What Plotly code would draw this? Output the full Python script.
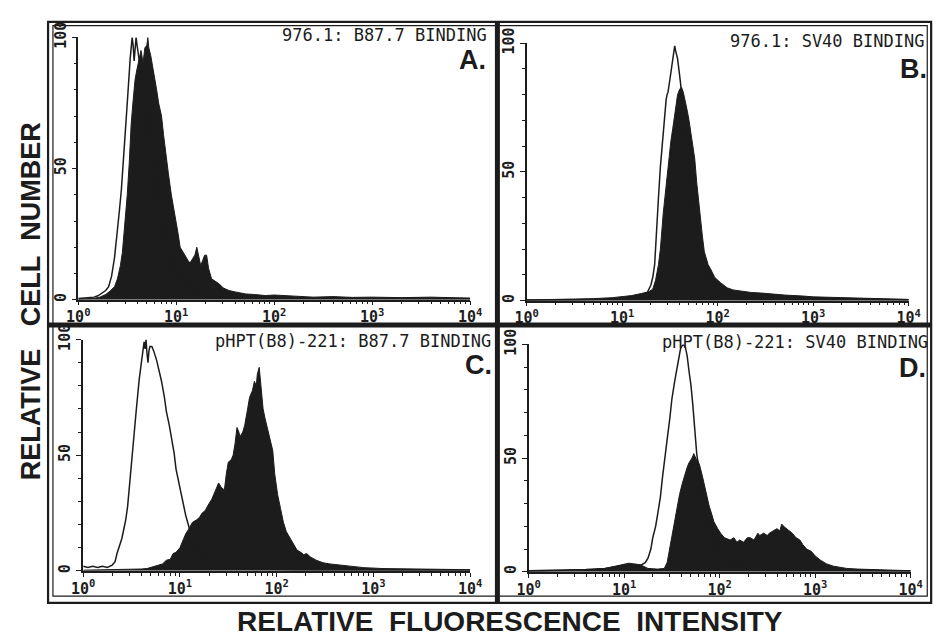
import plotly.graph_objects as go

W, H = 949, 637
INK = "#1c1c1c"
MONO = "DejaVu Sans Mono"
SANS = "Liberation Sans"

# Fluorescence positions are given in log10 decades (0..4), counts are relative (0..100)

# Panel A: 976.1, B87.7 binding
a_open_log = [0.00, 0.10, 0.16, 0.20, 0.24, 0.28, 0.31, 0.34, 0.37, 0.40, 0.42, 0.44, 0.46, 0.48,
              0.50, 0.52, 0.53, 0.55, 0.56, 0.57, 0.58, 0.59, 0.60, 0.62, 0.65, 0.70, 0.75, 0.80,
              0.85, 0.90, 0.95, 1.00, 1.10, 1.20, 1.40, 1.80, 2.50, 3.20, 4.00]
a_open_cnt = [0.5, 0.8, 1.0, 1.5, 2.5, 3.5, 5, 9, 16, 26, 34, 42, 55, 64,
              75, 88, 92, 100, 97, 91, 95, 100, 97, 91, 84, 72, 58, 44,
              32, 22, 15, 10, 5, 2.5, 1.2, 0.8, 0.6, 0.6, 0.5]
a_fill_log = [0.00, 0.15, 0.22, 0.28, 0.33, 0.37, 0.40, 0.43, 0.45, 0.47, 0.49, 0.50, 0.52, 0.54,
              0.56, 0.58, 0.60, 0.62, 0.64, 0.65, 0.66, 0.68, 0.70, 0.71, 0.72, 0.74, 0.76, 0.78,
              0.80, 0.82, 0.85, 0.87, 0.90, 0.92, 0.95, 0.98, 1.00, 1.02, 1.04, 1.07, 1.09, 1.12,
              1.14, 1.17, 1.19, 1.21, 1.23, 1.25, 1.27, 1.29, 1.31, 1.33, 1.36, 1.40, 1.44, 1.48,
              1.54, 1.60, 1.71, 1.80, 1.91, 2.00, 2.20, 2.40, 2.60, 2.80, 3.00, 3.30, 3.60, 3.80, 4.00]
a_fill_cnt = [0.3, 0.5, 1, 2, 3.5, 5, 8, 13, 18, 27, 35, 40, 52, 67,
              76, 84, 88, 92, 95, 93, 90, 96, 97, 100, 96, 93, 89, 84,
              80, 75, 70, 63, 53, 48, 40, 34, 30, 25, 20, 18, 17, 15,
              14, 16, 17, 20, 16, 13, 15, 17, 17, 12, 8, 7, 6, 4.5,
              3.5, 3, 2.2, 2, 1.6, 1.8, 1.3, 1.0, 1.2, 0.9, 1.0, 0.8, 1.0, 0.7, 0.6]

# Panel B: 976.1, SV40 binding
b_open_log = [0.0, 0.5, 1.0, 1.15, 1.22, 1.26, 1.30, 1.32, 1.34, 1.36, 1.38, 1.40, 1.43, 1.45,
              1.46, 1.47, 1.48, 1.50, 1.52, 1.54, 1.55, 1.56, 1.58, 1.60, 1.62, 1.65, 1.70, 1.75,
              1.80, 1.85, 1.90, 2.00, 2.20, 2.60, 3.00, 4.00]
b_open_cnt = [0.3, 0.4, 0.8, 1.2, 2, 3, 6, 9, 14, 25, 40, 52, 66, 74,
              78, 80, 81, 86, 91, 96, 99, 97, 94, 88, 82, 72, 55, 40,
              25, 15, 9, 4, 2, 1.2, 0.8, 0.4]
b_fill_log = [0.0, 0.4, 0.7, 0.9, 1.0, 1.1, 1.2, 1.28, 1.32, 1.35, 1.38, 1.40, 1.43, 1.46,
              1.48, 1.51, 1.53, 1.56, 1.58, 1.60, 1.62, 1.64, 1.66, 1.68, 1.70, 1.73, 1.76, 1.78,
              1.81, 1.84, 1.86, 1.90, 1.93, 1.97, 2.03, 2.10, 2.16, 2.25, 2.35, 2.45, 2.55, 2.70,
              2.90, 3.00, 3.20, 3.40, 3.60, 3.80, 4.00]
b_fill_cnt = [0.3, 0.5, 0.8, 1.2, 1.6, 2, 2.8, 3.5, 4.5, 8, 14, 20, 34, 45,
              52, 62, 67, 76, 80, 82, 83, 81, 78, 74, 70, 62, 55, 46,
              34, 25, 19, 14, 12, 9, 7, 5, 4.2, 3.6, 3.2, 3, 2.6, 2.2,
              1.8, 1.5, 1.3, 1.1, 1.0, 0.8, 0.5]

# Panel C: pHPT(B8)-221, B87.7 binding
c_open_log = [0.00, 0.05, 0.10, 0.15, 0.20, 0.25, 0.30, 0.33, 0.35, 0.38, 0.40, 0.42, 0.44, 0.46,
              0.47, 0.50, 0.52, 0.55, 0.58, 0.60, 0.62, 0.63, 0.64, 0.65, 0.66, 0.67, 0.68, 0.69,
              0.71, 0.73, 0.76, 0.79, 0.81, 0.84, 0.86, 0.89, 0.91, 0.94, 0.96, 0.99, 1.01, 1.04,
              1.06, 1.08, 1.10, 1.14, 1.20, 1.30, 1.45, 1.70, 2.20, 3.00, 4.00]
c_open_cnt = [2, 1.5, 2, 1.5, 2, 1.5, 2.5, 4, 7.5, 11, 14, 18, 22, 28,
              33, 46, 58, 70, 83, 90, 95, 99, 96, 100, 94, 90, 95, 97,
              97, 95, 91, 86, 82, 75, 69, 63, 58, 51, 44, 38, 33, 28,
              24, 21, 18, 12, 7, 3, 1.5, 0.8, 0.5, 0.5, 0.4]
c_fill_log = [0.0, 0.4, 0.6, 0.66, 0.75, 0.82, 0.86, 0.90, 0.93, 0.96, 1.00, 1.03, 1.06, 1.09,
              1.13, 1.17, 1.20, 1.23, 1.26, 1.30, 1.33, 1.37, 1.40, 1.43, 1.46, 1.48, 1.50, 1.53,
              1.55, 1.57, 1.59, 1.61, 1.62, 1.65, 1.67, 1.70, 1.72, 1.75, 1.77, 1.79, 1.80, 1.82,
              1.84, 1.86, 1.88, 1.91, 1.94, 1.96, 1.98, 2.01, 2.04, 2.07, 2.10, 2.14, 2.18, 2.21,
              2.25, 2.28, 2.31, 2.35, 2.41, 2.48, 2.55, 2.65, 2.75, 2.90, 3.10, 3.40, 3.70, 4.00]
c_fill_cnt = [0.3, 0.5, 0.8, 1, 2, 3, 4.6, 5, 7.5, 8, 10, 13, 16, 18,
              21, 22, 23, 25, 26, 29, 31, 35, 38, 36, 35, 42, 47, 48,
              50, 55, 62, 60, 58, 60, 63, 70, 75, 78, 82, 80, 85, 88,
              78, 70, 66, 61, 56, 52, 42, 33, 27, 21, 17, 14, 11, 9,
              8, 7, 7.5, 6, 4.6, 3.5, 3, 2.5, 2, 1.4, 1, 0.8, 0.6, 0.5]

# Panel D: pHPT(B8)-221, SV40 binding
d_open_log = [0.0, 0.3, 0.6, 0.8, 0.9, 0.95, 1.00, 1.10, 1.18, 1.22, 1.25, 1.28, 1.30, 1.33,
              1.35, 1.38, 1.40, 1.43, 1.45, 1.48, 1.50, 1.53, 1.55, 1.57, 1.59, 1.60, 1.62, 1.64,
              1.66, 1.68, 1.70, 1.72, 1.74, 1.76, 1.80, 1.85, 1.95, 2.05, 2.20, 2.40, 3.00, 4.00]
d_open_cnt = [0.5, 0.6, 1, 1.5, 2, 2.5, 3, 3.2, 3, 4, 6, 10, 15, 20,
              25, 33, 41, 50, 58, 68, 76, 84, 89, 94, 98, 99, 100, 99,
              95, 88, 82, 73, 62, 52, 40, 26, 12, 5, 2.5, 1.5, 0.8, 0.4]
d_fill_log = [0.0, 0.3, 0.6, 0.8, 0.9, 0.95, 1.00, 1.05, 1.10, 1.15, 1.20, 1.25, 1.35, 1.42,
              1.45, 1.48, 1.51, 1.53, 1.56, 1.58, 1.61, 1.63, 1.66, 1.68, 1.71, 1.73, 1.75, 1.77,
              1.79, 1.82, 1.84, 1.87, 1.89, 1.92, 1.94, 1.98, 2.01, 2.05, 2.11, 2.15, 2.18, 2.21,
              2.25, 2.29, 2.32, 2.36, 2.40, 2.42, 2.46, 2.50, 2.52, 2.56, 2.60, 2.63, 2.65, 2.67,
              2.70, 2.74, 2.76, 2.80, 2.84, 2.87, 2.91, 2.96, 3.00, 3.06, 3.12, 3.19, 3.26, 3.33,
              3.45, 3.60, 3.80, 4.00]
d_fill_cnt = [0.3, 0.5, 0.8, 1.5, 2.5, 3, 3.5, 3.8, 3.5, 3.2, 2.5, 1.5, 1.2, 1.5,
              4, 11, 17, 22, 29, 34, 39, 42, 46, 48, 50, 52, 50, 49,
              47, 42, 38, 32, 29, 25, 22, 19, 17, 15, 14, 15, 13, 14,
              13, 15, 15, 14, 17, 16, 17, 16, 17, 18, 19, 18, 21, 20,
              19, 18, 17, 15, 14, 12, 10, 9, 7, 5, 3.5, 2.5, 2, 1.5,
              1.2, 1, 0.7, 0.5]

panel_titles = ["976.1: B87.7 BINDING", "976.1: SV40 BINDING",
                "pHPT(B8)-221: B87.7 BINDING", "pHPT(B8)-221: SV40 BINDING"]
panel_letters = ["A.", "B.", "C.", "D."]
decade_vals = [1, 10, 100, 1000, 10000]
decade_text = ["10<sup>0</sup>", "10<sup>1</sup>", "10<sup>2</sup>", "10<sup>3</sup>", "10<sup>4</sup>"]
count_vals = [0, 50, 100]
count_text = ["0", "50", "100"]


def fx(p):
    return p / W


def fy(p):
    return 1 - p / H


# plot-area placement in pixels: (x of 10^0, x of 10^4, y of 0, y of 100)
boxes = [(68, 470, 292, 22), (528, 920, 293, 28), (73, 470, 571, 333), (530, 922, 572, 338)]
title_pos = [(489, 20), (938, 26), (493, 334), (942, 335)]
letter_pos = [(488, 45), (941, 55), (494, 359), (940, 362)]

series = [
    (a_open_log, a_open_cnt, a_fill_log, a_fill_cnt),
    (b_open_log, b_open_cnt, b_fill_log, b_fill_cnt),
    (c_open_log, c_open_cnt, c_fill_log, c_fill_cnt),
    (d_open_log, d_open_cnt, d_fill_log, d_fill_cnt),
]

minor_vals = [m * 10 ** k for k in range(4) for m in range(2, 10)]

fig = go.Figure()
layout = dict(
    width=W, height=H, margin=dict(l=0, r=0, t=0, b=0),
    paper_bgcolor="white", plot_bgcolor="rgba(0,0,0,0)", showlegend=False,
)
annotations = []
shapes = []

for i, ((x0, x1, yb, yt), (ol, oc, fl, fc)) in enumerate(zip(boxes, series)):
    n = "" if i == 0 else str(i + 1)
    xa, ya = "x" + n, "y" + n
    fig.add_trace(go.Scatter(
        x=[10 ** v for v in fl], y=fc, xaxis=xa, yaxis=ya, mode="lines",
        fill="tozeroy", fillcolor=INK, line=dict(color=INK, width=1), hoverinfo="skip"))
    fig.add_trace(go.Scatter(
        x=[10 ** v for v in ol], y=oc, xaxis=xa, yaxis=ya, mode="lines",
        line=dict(color=INK, width=1.5), hoverinfo="skip"))
    layout["xaxis" + n] = dict(
        domain=[fx(x0), fx(x1)], anchor=ya, type="log", range=[0, 4],
        showline=True, linecolor=INK, linewidth=1.5, showgrid=False, zeroline=False,
        ticks="outside", ticklen=4, tickwidth=1.3, tickcolor=INK,
        tickvals=decade_vals, ticktext=decade_text, ticklabelstandoff=-1,
        tickfont=dict(family=MONO, size=15, color=INK, weight="bold"),
        minor=dict(tickvals=minor_vals, ticks="outside", ticklen=3, tickwidth=1, tickcolor=INK),
    )
    layout["yaxis" + n] = dict(
        domain=[fy(yb), fy(yt)], anchor=xa, range=[0, 100],
        showline=True, linecolor=INK, linewidth=1.5, showgrid=False, zeroline=False,
        ticks="outside", ticklen=5, tickwidth=1.3, tickcolor=INK,
        tickvals=count_vals, ticktext=count_text, tickangle=-90,
        tickfont=dict(family=MONO, size=15, color=INK, weight="bold"),
        minor=dict(dtick=10, ticks="outside", ticklen=3, tickwidth=1, tickcolor=INK),
    )
    tx, ty = title_pos[i]
    annotations.append(dict(
        text=panel_titles[i], x=fx(tx), y=fy(ty), xref="paper", yref="paper",
        xanchor="right", yanchor="middle", showarrow=False,
        font=dict(family=MONO, size=17, color=INK)))
    lx, ly = letter_pos[i]
    annotations.append(dict(
        text=panel_letters[i], x=fx(lx), y=fy(ly), xref="paper", yref="paper",
        xanchor="right", yanchor="middle", showarrow=False,
        font=dict(family=SANS, size=27, color=INK, weight="bold")))

annotations.append(dict(
    text="RELATIVE\u00a0\u00a0\u00a0CELL\u00a0\u00a0NUMBER", x=fx(19), y=fy(294),
    xref="paper", yref="paper", xanchor="center", yanchor="middle", textangle=-90,
    showarrow=False, font=dict(family=SANS, size=27, color=INK, weight="bold")))
annotations.append(dict(
    text="RELATIVE\u00a0\u00a0FLUORESCENCE\u00a0\u00a0INTENSITY", x=fx(511), y=fy(623),
    xref="paper", yref="paper", xanchor="center", yanchor="middle",
    showarrow=False, font=dict(family=SANS, size=28, color=INK, weight="bold")))


def rect(x0, y0, x1, y1, w):
    return dict(type="rect", xref="paper", yref="paper", x0=fx(x0), y0=fy(y0), x1=fx(x1), y1=fy(y1),
                line=dict(color=INK, width=w), fillcolor="rgba(0,0,0,0)", layer="above")


def seg(x0, y0, x1, y1, w):
    return dict(type="line", xref="paper", yref="paper", x0=fx(x0), y0=fy(y0), x1=fx(x1), y1=fy(y1),
                line=dict(color=INK, width=w), layer="above")


# outer double frame and the cross dividing the four panels
shapes.append(rect(37, 6, 943, 604, 2.2))
shapes.append(rect(42, 10, 939, 597, 1.2))
shapes.append(seg(37, 318, 943, 318, 5))
shapes.append(seg(498, 6, 498, 604, 5))

layout["annotations"] = annotations
layout["shapes"] = shapes
fig.update_layout(**layout)
fig.write_html("out.html")
